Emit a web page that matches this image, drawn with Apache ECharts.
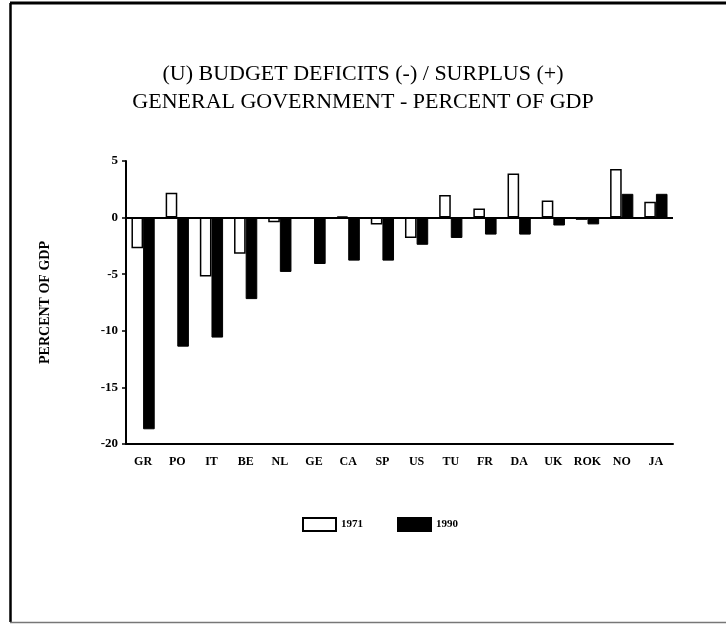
<!DOCTYPE html>
<html>
<head>
<meta charset="utf-8">
<style>
  html, body { margin: 0; padding: 0; background: #fff; }
  #chart { width: 726px; height: 624px; }
</style>
<script src="https://cdn.jsdelivr.net/npm/echarts@6/dist/echarts.min.js"></script>
</head>
<body>
<div id="chart"></div>
<script>
// Countries, ordered by their 1990 balance
const countries = ['GR', 'PO', 'IT', 'BE', 'NL', 'GE', 'CA', 'SP', 'US', 'TU', 'FR', 'DA', 'UK', 'ROK', 'NO', 'JA'];
// General government balance, percent of GDP
const balance1971 = [-2.7, 2.2, -5.2, -3.2, -0.4, -0.1, 0.1, -0.6, -1.8, 2.0, 0.8, 3.9, 1.5, -0.2, 4.3, 1.4];
const balance1990 = [-18.7, -11.4, -10.6, -7.2, -4.8, -4.1, -3.8, -3.8, -2.4, -1.8, -1.5, -1.5, -0.7, -0.6, 2.1, 2.1];
const yearNames = ['1971', '1990'];

const serif = '"Liberation Serif", "DejaVu Serif", serif';
const chart = echarts.init(document.getElementById('chart'));

chart.setOption({
  backgroundColor: '#ffffff',
  animation: false,
  title: {
    text: '(U) BUDGET DEFICITS (-) / SURPLUS (+)\nGENERAL GOVERNMENT - PERCENT OF GDP',
    left: 'center',
    top: 55,
    textStyle: {
      fontFamily: serif,
      fontSize: 22,
      fontWeight: 'normal',
      color: '#000',
      lineHeight: 28
    }
  },
  legend: {
    left: 297,
    top: 512,
    icon: 'rect',
    itemWidth: 33,
    itemHeight: 13,
    itemGap: 34,
    data: yearNames,
    textStyle: { fontFamily: serif, fontSize: 11, fontWeight: 'bold', color: '#000' }
  },
  grid: { left: 126, right: 53, top: 161, bottom: 180 },
  xAxis: {
    type: 'category',
    data: countries,
    axisLine: { onZero: false, lineStyle: { color: '#000', width: 2 } },
    axisTick: { alignWithLabel: true, length: 5, lineStyle: { color: '#000', width: 1.5 } },
    axisLabel: { interval: 0, fontFamily: serif, fontSize: 12, fontWeight: 'bold', color: '#000', margin: 12 }
  },
  yAxis: {
    type: 'value',
    min: -20,
    max: 5,
    interval: 5,
    name: 'PERCENT OF GDP',
    nameLocation: 'middle',
    nameGap: 74,
    nameTextStyle: { fontFamily: serif, fontSize: 14, fontWeight: 'bold', color: '#000' },
    axisLine: { show: true, lineStyle: { color: '#000', width: 2 } },
    axisTick: { show: true, length: 4, lineStyle: { color: '#000', width: 1.5 } },
    splitLine: { show: false },
    axisLabel: { fontFamily: serif, fontSize: 13, fontWeight: 'bold', color: '#000', margin: 8 }
  },
  series: [
    {
      name: yearNames[0],
      type: 'bar',
      data: balance1971,
      barGap: '0%',
      barCategoryGap: '32%',
      itemStyle: { color: '#ffffff', borderColor: '#000', borderWidth: 1.5 },
      markLine: {
        silent: true,
        symbol: 'none',
        label: { show: false },
        lineStyle: { color: '#000', width: 2, type: 'solid' },
        data: [{ yAxis: 0 }]
      }
    },
    {
      name: yearNames[1],
      type: 'bar',
      data: balance1990,
      itemStyle: { color: '#000000', borderColor: '#000', borderWidth: 1 }
    }
  ],
  graphic: [
    { type: 'line', shape: { x1: 10.5, y1: 3, x2: 10.5, y2: 622 }, style: { stroke: '#000', lineWidth: 2.5 } },
    { type: 'line', shape: { x1: 10, y1: 3, x2: 726, y2: 3 }, style: { stroke: '#000', lineWidth: 3 } },
    { type: 'line', shape: { x1: 10, y1: 622.5, x2: 726, y2: 622.5 }, style: { stroke: '#777', lineWidth: 1.5 } }
  ]
});
</script>
</body>
</html>
